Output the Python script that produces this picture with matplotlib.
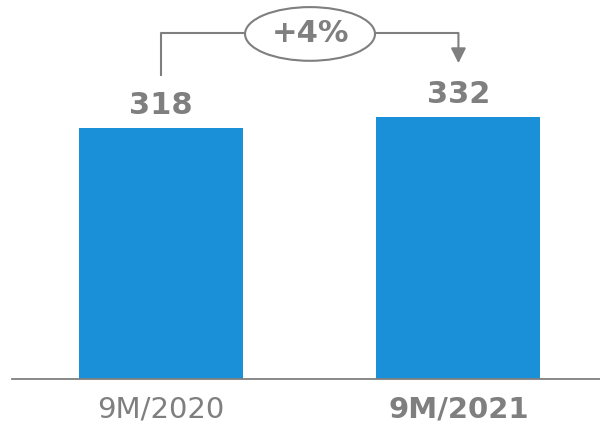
import matplotlib.pyplot as plt
from matplotlib.patches import Ellipse

periods = ["9M/2020", "9M/2021"]
values = [318, 332]
growth_label = "+4%"

BLUE = "#1a90d8"
GREY = "#7f7f7f"

fig = plt.figure(figsize=(6, 4.3), dpi=100)
ax = fig.add_axes([0.02, 51 / 430, 0.98, 379 / 430])

x = range(len(values))
ax.bar(x, values, width=0.551, color=BLUE, zorder=2)
ax.set_xlim(-0.501, 1.476)
ax.set_ylim(0, 480)

# value labels above each bar
for xi, v in zip(x, values):
    ax.text(xi, v + 17, f"{v}", ha="center", va="baseline",
            fontsize=22, fontweight="bold", color=GREY)

# bracket from first bar to second with growth bubble
left_bottom = values[0] + 66
top = 438
tip = values[1] + 68
mid = 0.501
ax.plot([0, 0, mid], [left_bottom, top, top], color=GREY, lw=1.5,
        solid_capstyle="butt", zorder=1)
ax.annotate("", xy=(1, tip), xytext=(1, top),
            arrowprops=dict(arrowstyle="-|>,head_length=0.9,head_width=0.45",
                            color=GREY, lw=1.5, shrinkA=0, shrinkB=0))
ax.plot([mid, 1], [top, top], color=GREY, lw=1.5, zorder=1)
ax.add_patch(Ellipse((mid, 437), 0.437, 68, facecolor="white",
                     edgecolor=GREY, lw=1.5, zorder=3))
ax.text(mid, 437, growth_label, ha="center", va="center",
        fontsize=22, fontweight="bold", color=GREY, zorder=4)

for side in ["top", "right", "left"]:
    ax.spines[side].set_visible(False)
ax.spines["bottom"].set_color(GREY)
ax.spines["bottom"].set_linewidth(1.3)
ax.set_yticks([])
ax.set_xticks(list(x))
ax.set_xticklabels(periods, fontsize=21, color=GREY)
ax.get_xticklabels()[1].set_fontweight("bold")
ax.tick_params(axis="x", length=0, pad=12)

fig.savefig("out.png", dpi=100)
